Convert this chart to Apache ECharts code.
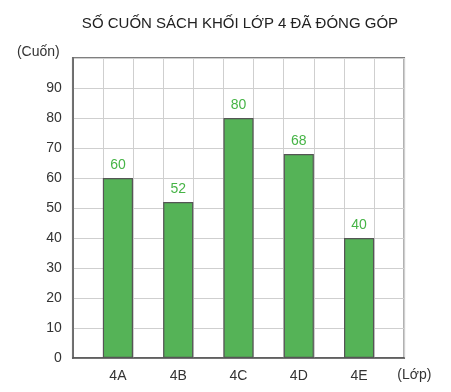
<!DOCTYPE html>
<html>
<head>
<meta charset="utf-8">
<script src="https://cdn.jsdelivr.net/npm/echarts@6/dist/echarts.min.js"></script>
<style>html,body{margin:0;padding:0;background:#fff}#c{width:451px;height:392px}</style>
</head>
<body>
<div id="c"></div>
<script>
const titleText = 'SỐ CUỐN SÁCH KHỐI LỚP 4 ĐÃ ĐÓNG GÓP';
const classes = ['4A', '4B', '4C', '4D', '4E'];
const books = [60, 52, 80, 68, 40];
const yTicks = [0, 10, 20, 30, 40, 50, 60, 70, 80, 90];
const yUnit = '(Cuốn)';
const xUnit = '(Lớp)';

// each class sits in every other column of an 11-column grid
const slots = [];
const slotValues = [];
slots.push('');
slotValues.push(null);
classes.forEach((c, i) => {
  slots.push(c); slotValues.push(books[i]);
  slots.push(''); slotValues.push(null);
});

const font = '"Liberation Sans", Arial, sans-serif';
const chart = echarts.init(document.getElementById('c'), null, {renderer: 'canvas'});
chart.setOption({
  animation: false,
  backgroundColor: '#fff',
  title: {
    text: titleText, left: 235, top: 11, textAlign: 'center',
    textStyle: {fontFamily: font, fontSize: 15, fontWeight: 'normal', color: '#222'}
  },
  grid: {
    left: 72.7, right: 46.7, top: 58, bottom: 34,
    show: true, borderColor: '#555', borderWidth: 1.5, backgroundColor: 'transparent'
  },
  xAxis: {
    type: 'category', data: slots, boundaryGap: true,
    axisLine: {show: true, lineStyle: {color: '#555', width: 1.5}},
    axisTick: {show: false},
    axisLabel: {interval: 0, margin: 11, color: '#333', fontFamily: font, fontSize: 14},
    splitLine: {show: true, interval: 0, lineStyle: {color: '#cfcfcf', width: 1}},
    name: xUnit, nameLocation: 'end', nameGap: -7,
    nameTextStyle: {color: '#333', fontFamily: font, fontSize: 14, verticalAlign: 'top', align: 'left', padding: [10, 0, 0, 0]}
  },
  yAxis: {
    type: 'value', min: 0, max: 100, interval: 10,
    axisLine: {show: true, lineStyle: {color: '#555', width: 1.5}},
    axisTick: {show: false},
    axisLabel: {
      margin: 11, color: '#333', fontFamily: font, fontSize: 14,
      formatter: v => (yTicks.indexOf(v) >= 0 ? String(v) : '')
    },
    splitLine: {show: true, lineStyle: {color: '#cfcfcf', width: 1}},
    name: yUnit, nameLocation: 'end', nameGap: 6,
    nameTextStyle: {color: '#333', fontFamily: font, fontSize: 14, align: 'right', verticalAlign: 'middle', padding: [0, 13, 0, 0]}
  },
  series: [{
    type: 'bar', data: slotValues, barWidth: '100%',
    itemStyle: {color: '#55b357', borderColor: '#555', borderWidth: 1.2},
    label: {show: true, position: 'top', distance: 6, color: '#46b446', fontFamily: font, fontSize: 14}
  }]
});
</script>
</body>
</html>
